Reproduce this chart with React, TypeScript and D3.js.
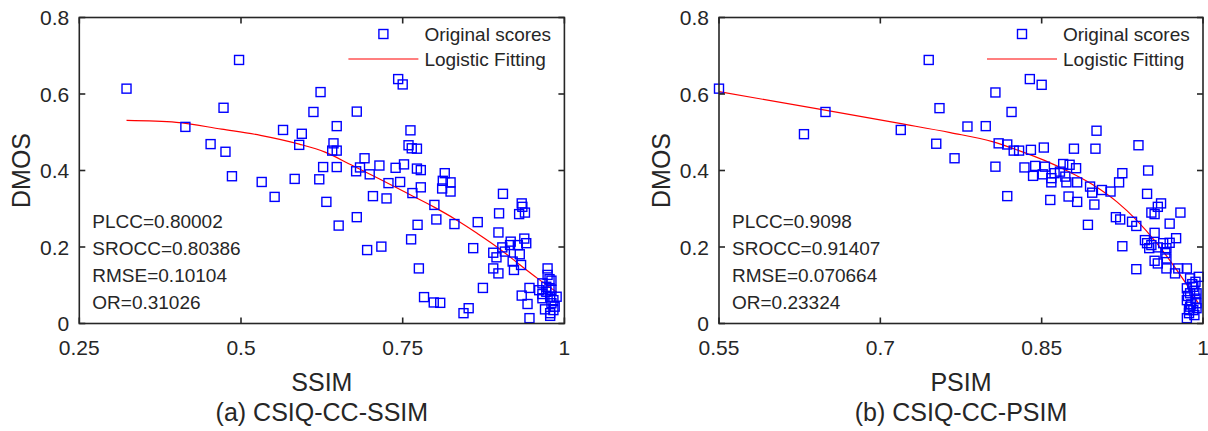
import React from "react";
import * as d3 from "d3";

// ---------- Data ----------
const ssimScores: [number, number][] = [
  [0.323, 0.614], [0.414, 0.514], [0.453, 0.469], [0.473, 0.564], [0.476, 0.449],
  [0.486, 0.385], [0.497, 0.689], [0.532, 0.37], [0.552, 0.331], [0.565, 0.506],
  [0.583, 0.378], [0.59, 0.467], [0.594, 0.496], [0.612, 0.553], [0.621, 0.377],
  [0.623, 0.605], [0.627, 0.409], [0.632, 0.318], [0.641, 0.452], [0.643, 0.471],
  [0.648, 0.452], [0.648, 0.516], [0.648, 0.409], [0.651, 0.256], [0.678, 0.398],
  [0.679, 0.554], [0.679, 0.278], [0.684, 0.408], [0.691, 0.432], [0.695, 0.192],
  [0.699, 0.39], [0.704, 0.333], [0.714, 0.413], [0.717, 0.201], [0.725, 0.327],
  [0.728, 0.367], [0.739, 0.407], [0.743, 0.639], [0.746, 0.37], [0.75, 0.625],
  [0.752, 0.416], [0.759, 0.466], [0.762, 0.505], [0.763, 0.22], [0.764, 0.458],
  [0.765, 0.341], [0.772, 0.457], [0.772, 0.405], [0.773, 0.258], [0.775, 0.144],
  [0.778, 0.401], [0.778, 0.356], [0.783, 0.069], [0.798, 0.055], [0.799, 0.31],
  [0.802, 0.272], [0.808, 0.054], [0.811, 0.353], [0.812, 0.373], [0.815, 0.393],
  [0.824, 0.369], [0.824, 0.345], [0.83, 0.26], [0.844, 0.027], [0.852, 0.04],
  [0.859, 0.197], [0.866, 0.265], [0.874, 0.093], [0.89, 0.185], [0.89, 0.144],
  [0.895, 0.173], [0.898, 0.238], [0.898, 0.131], [0.899, 0.288], [0.904, 0.199],
  [0.905, 0.339], [0.908, 0.188], [0.916, 0.205], [0.917, 0.214], [0.92, 0.162],
  [0.922, 0.14], [0.928, 0.205], [0.93, 0.286], [0.931, 0.181], [0.933, 0.153],
  [0.934, 0.314], [0.935, 0.305], [0.934, 0.073], [0.938, 0.222], [0.939, 0.29],
  [0.941, 0.21], [0.943, 0.051], [0.946, 0.093], [0.946, 0.014],
  [0.974, 0.144], [0.974, 0.127], [0.977, 0.116], [0.98, 0.112], [0.966, 0.105],
  [0.972, 0.096], [0.977, 0.092], [0.98, 0.088], [0.978, 0.02], [0.961, 0.087],
  [0.966, 0.077], [0.966, 0.066], [0.972, 0.083], [0.978, 0.07], [0.983, 0.061],
  [0.988, 0.07], [0.98, 0.053], [0.985, 0.044], [0.97, 0.037], [0.978, 0.027],
  [0.983, 0.035],
];

const ssimFit: [number, number][] = [
  [0.323, 0.531], [0.4, 0.526], [0.47, 0.508], [0.53, 0.492], [0.59, 0.469],
  [0.63, 0.448], [0.67, 0.415], [0.715, 0.377], [0.76, 0.338], [0.8, 0.303],
  [0.83, 0.274], [0.865, 0.236], [0.9, 0.195], [0.93, 0.155], [0.96, 0.116],
  [0.988, 0.082],
];

const psimScores: [number, number][] = [
  [0.55, 0.614], [0.629, 0.495], [0.649, 0.553], [0.719, 0.506], [0.745, 0.689],
  [0.752, 0.47], [0.755, 0.563], [0.769, 0.432], [0.781, 0.515], [0.798, 0.516],
  [0.807, 0.604], [0.807, 0.41], [0.81, 0.471], [0.818, 0.468], [0.818, 0.333],
  [0.822, 0.553], [0.824, 0.452], [0.829, 0.452], [0.834, 0.408], [0.839, 0.639],
  [0.84, 0.454], [0.842, 0.386], [0.844, 0.412], [0.85, 0.624], [0.851, 0.39],
  [0.852, 0.46], [0.853, 0.41], [0.858, 0.323], [0.859, 0.38], [0.859, 0.369],
  [0.862, 0.393], [0.867, 0.397], [0.87, 0.417], [0.872, 0.384], [0.873, 0.369],
  [0.875, 0.332], [0.876, 0.415], [0.88, 0.457], [0.882, 0.406], [0.883, 0.369],
  [0.883, 0.318], [0.893, 0.258], [0.895, 0.358], [0.897, 0.342], [0.899, 0.311],
  [0.9, 0.457], [0.901, 0.504], [0.906, 0.349], [0.914, 0.345], [0.919, 0.278],
  [0.922, 0.369], [0.923, 0.272], [0.925, 0.393], [0.925, 0.202], [0.934, 0.266],
  [0.938, 0.255], [0.938, 0.142], [0.94, 0.466], [0.946, 0.218], [0.948, 0.21],
  [0.948, 0.339], [0.949, 0.4], [0.95, 0.197], [0.952, 0.205], [0.952, 0.29],
  [0.955, 0.286], [0.955, 0.237], [0.955, 0.164], [0.958, 0.305], [0.958, 0.199],
  [0.958, 0.157], [0.961, 0.314], [0.963, 0.21], [0.965, 0.184], [0.966, 0.197],
  [0.966, 0.144], [0.966, 0.17], [0.969, 0.261], [0.969, 0.211], [0.974, 0.131],
  [0.975, 0.223], [0.977, 0.144], [0.979, 0.29],
  [0.985, 0.144], [0.988, 0.118], [0.993, 0.109], [0.996, 0.122], [0.985, 0.092],
  [0.991, 0.096], [0.988, 0.079], [0.994, 0.079], [0.985, 0.061], [0.993, 0.065],
  [0.988, 0.044], [0.994, 0.053], [0.987, 0.027], [0.991, 0.035], [0.985, 0.014],
  [0.994, 0.04], [0.99, 0.103], [0.992, 0.085], [0.986, 0.072], [0.989, 0.05],
  [0.992, 0.022], [0.987, 0.035],
];

const psimFit: [number, number][] = [
  [0.55, 0.606], [0.6486, 0.558], [0.718, 0.523], [0.765, 0.499], [0.805, 0.475],
  [0.827, 0.454], [0.852, 0.427], [0.873, 0.4], [0.898, 0.362], [0.92, 0.318],
  [0.938, 0.271], [0.957, 0.21], [0.9755, 0.14], [0.988, 0.088], [0.996, 0.051],
];

const ssimXTicks = [0.25, 0.5, 0.75, 1];
const psimXTicks = [0.55, 0.7, 0.85, 1];
const yTicks = [0, 0.2, 0.4, 0.6, 0.8];

const ssimStats = ["PLCC=0.80002", "SROCC=0.80386", "RMSE=0.10104", "OR=0.31026"];
const psimStats = ["PLCC=0.9098", "SROCC=0.91407", "RMSE=0.070664", "OR=0.23324"];

const legendLabels = ["Original scores", "Logistic Fitting"];

// ---------- Layout ----------
const FONT = "'Liberation Sans', Arial, Helvetica, sans-serif";
const TXT = "#262626";
const TOP = 17.5;
const BOTTOM = 323.5;

type PanelProps = {
  left: number;
  right: number;
  xDomain: [number, number];
  xTicks: number[];
  xTickFmt: (v: number) => string;
  scores: [number, number][];
  fit: [number, number][];
  stats: string[];
  xLabel: string;
  caption: string;
};

function Panel(p: PanelProps) {
  const x = d3.scaleLinear().domain(p.xDomain).range([p.left, p.right]);
  const y = d3.scaleLinear().domain([0, 0.8]).range([BOTTOM, TOP]);
  const line = d3
    .line<[number, number]>()
    .x((d) => x(d[0]))
    .y((d) => y(d[1]))
    .curve(d3.curveMonotoneX);
  const tickLen = 6;
  const ms = 9;
  const cx = (p.left + p.right) / 2;
  const legX = p.right - 140;
  return (
    <g>
      <path d={line(p.fit) || ""} fill="none" stroke="#ff0000" strokeWidth={1.2} />
      {p.scores.map((d, i) => (
        <rect
          key={i}
          x={x(d[0]) - ms / 2}
          y={y(d[1]) - ms / 2}
          width={ms}
          height={ms}
          fill="none"
          stroke="#0000ff"
          strokeWidth={1.4}
        />
      ))}
      <rect
        x={p.left}
        y={TOP}
        width={p.right - p.left}
        height={BOTTOM - TOP}
        fill="none"
        stroke={TXT}
        strokeWidth={1.6}
      />
      {p.xTicks.map((t) => (
        <g key={"x" + t}>
          <line x1={x(t)} x2={x(t)} y1={BOTTOM} y2={BOTTOM - tickLen} stroke={TXT} strokeWidth={1.6} />
          <line x1={x(t)} x2={x(t)} y1={TOP} y2={TOP + tickLen} stroke={TXT} strokeWidth={1.6} />
          <text
            x={x(t)}
            y={BOTTOM + 31}
            textAnchor="middle"
            fontFamily={FONT}
            fontSize={21}
            fill={TXT}
          >
            {p.xTickFmt(t)}
          </text>
        </g>
      ))}
      {yTicks.map((t) => (
        <g key={"y" + t}>
          <line x1={p.left} x2={p.left + tickLen} y1={y(t)} y2={y(t)} stroke={TXT} strokeWidth={1.6} />
          <line x1={p.right} x2={p.right - tickLen} y1={y(t)} y2={y(t)} stroke={TXT} strokeWidth={1.6} />
          <text
            x={p.left - 10}
            y={y(t) + 7.5}
            textAnchor="end"
            fontFamily={FONT}
            fontSize={21}
            fill={TXT}
          >
            {String(t)}
          </text>
        </g>
      ))}
      <text x={cx} y={391} textAnchor="middle" fontFamily={FONT} fontSize={25} fill={TXT}>
        {p.xLabel}
      </text>
      <text
        transform={`translate(${p.left - 49},${(TOP + BOTTOM) / 2}) rotate(-90)`}
        textAnchor="middle"
        fontFamily={FONT}
        fontSize={25}
        fill={TXT}
      >
        DMOS
      </text>
      <text x={cx} y={421} textAnchor="middle" fontFamily={FONT} fontSize={25} fill={TXT}>
        {p.caption}
      </text>
      {p.stats.map((s, i) => (
        <text
          key={s}
          x={p.left + 13}
          y={227.5 + i * 27}
          fontFamily={FONT}
          fontSize={19}
          fill={TXT}
        >
          {s}
        </text>
      ))}
      <rect
        x={legX - 41 - ms / 2}
        y={34 - ms / 2}
        width={ms}
        height={ms}
        fill="none"
        stroke="#0000ff"
        strokeWidth={1.4}
      />
      <line x1={legX - 76} x2={legX - 6} y1={59} y2={59} stroke="#ff0000" strokeWidth={1.2} />
      {legendLabels.map((l, i) => (
        <text key={l} x={legX} y={40.5 + i * 25} fontFamily={FONT} fontSize={19} fill={TXT}>
          {l}
        </text>
      ))}
    </g>
  );
}

export default function App() {
  return (
    <svg
      width={1208}
      height={431}
      style={{ position: "absolute", left: 0, top: 0, background: "#fff" }}
    >
      <rect width={1208} height={431} fill="#fff" />
      <Panel
        left={79.3}
        right={564.4}
        xDomain={[0.25, 1]}
        xTicks={ssimXTicks}
        xTickFmt={(v) => String(v)}
        scores={ssimScores}
        fit={ssimFit}
        stats={ssimStats}
        xLabel="SSIM"
        caption="(a) CSIQ-CC-SSIM"
      />
      <Panel
        left={719}
        right={1203}
        xDomain={[0.55, 1]}
        xTicks={psimXTicks}
        xTickFmt={(v) => String(v)}
        scores={psimScores}
        fit={psimFit}
        stats={psimStats}
        xLabel="PSIM"
        caption="(b) CSIQ-CC-PSIM"
      />
    </svg>
  );
}
